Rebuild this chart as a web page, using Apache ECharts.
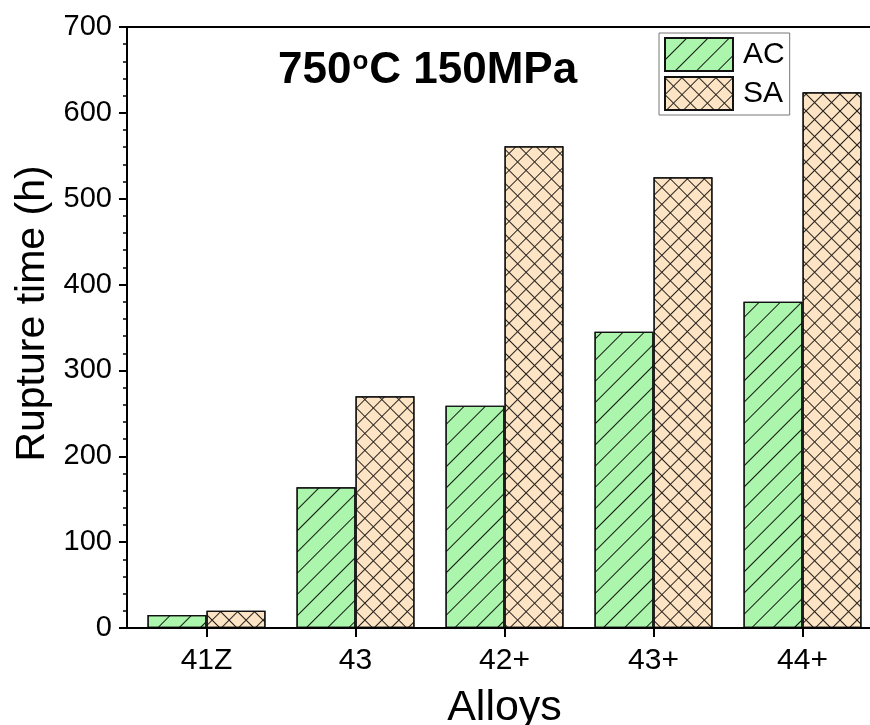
<!DOCTYPE html>
<html>
<head>
<meta charset="utf-8">
<script src="https://cdn.jsdelivr.net/npm/echarts@6/dist/echarts.min.js"></script>
<style>html,body{margin:0;padding:0;background:#fff}#c{width:870px;height:725px}</style>
</head>
<body>
<div id="c"></div>
<script>
var categories = ['41Z', '43', '42+', '43+', '44+'];
var acValues = [15, 164, 259, 345, 380];
var saValues = [20, 270, 561, 525, 624];
var yTicks = [0, 100, 200, 300, 400, 500, 600, 700];

var FONT = "'Liberation Sans', Arial, sans-serif";
var chart = echarts.init(document.getElementById('c'), null, {renderer: 'canvas'});

var acDecal = {
  symbol: 'rect', symbolSize: 1, color: 'rgba(0,0,0,0.9)',
  dashArrayX: [[1, 0]], dashArrayY: [1, 14], rotation: -Math.PI / 4
};
var saDecal = {
  symbol: 'rect', symbolSize: 1, color: 'rgba(0,0,0,0.85)',
  dashArrayX: [[12, 0], [1, 11]], dashArrayY: [1, 0, 11, 0], rotation: Math.PI / 4
};

var option = {
  animation: false,
  backgroundColor: '#fff',
  title: {
    left: 273, top: 44,
    text: '{a|750}{b|o}{a|C 150MPa}',
    textStyle: {
      rich: {
        a: {fontSize: 44, fontWeight: 'bold', fontFamily: FONT, color: '#000'},
        b: {fontSize: 26, lineHeight: 26, fontWeight: 'bold', fontFamily: FONT, color: '#000', verticalAlign: 'top', padding: [0, 1, 0, 1]}
      }
    }
  },
  legend: {
    left: 659, top: 33, orient: 'vertical',
    itemWidth: 68, itemHeight: 33, itemGap: 4,
    padding: [4, 5, 4, 5],
    borderColor: '#777', borderWidth: 1,
    icon: 'rect',
    textStyle: {fontSize: 30, fontFamily: FONT, color: '#000', padding: [0, 0, 0, 5]},
    data: ['AC', 'SA']
  },
  grid: [
    {left: 127, top: 27, right: -20, bottom: 97, outerBoundsMode: 'none', show: true, borderColor: '#000', borderWidth: 2, backgroundColor: 'transparent', z: 5},
    {left: 132, top: 27, width: 745, bottom: 97, outerBoundsMode: 'none'}
  ],
  xAxis: [
    {type: 'value', gridIndex: 0, show: false, min: 0, max: 1},
    {
      type: 'category', gridIndex: 1, data: categories,
      axisLine: {show: false},
      axisTick: {show: true, alignWithLabel: true, length: 9, lineStyle: {color: '#000', width: 2}},
      axisLabel: {fontSize: 30, fontFamily: FONT, color: '#000', margin: 18},
      name: 'Alloys', nameLocation: 'middle', nameGap: 59,
      nameTextStyle: {fontSize: 43, fontFamily: FONT, color: '#000'}
    }
  ],
  yAxis: [
    {
      type: 'value', gridIndex: 0, min: yTicks[0], max: yTicks[yTicks.length - 1], interval: 100,
      axisLine: {show: false},
      axisTick: {show: true, length: 8, lineStyle: {color: '#000', width: 2}},
      minorTick: {show: true, splitNumber: 5, length: 4, lineStyle: {color: '#000', width: 1.5}},
      splitLine: {show: false},
      axisLabel: {fontSize: 29, fontFamily: FONT, color: '#000', margin: 15},
      name: 'Rupture time (h)', nameLocation: 'middle', nameGap: 70,
      nameTextStyle: {fontSize: 41, fontFamily: FONT, color: '#000', padding: [0, 0, 0, 28]}
    },
    {type: 'value', gridIndex: 1, show: false, min: yTicks[0], max: yTicks[yTicks.length - 1]}
  ],
  series: [
    {
      name: 'AC', type: 'bar', xAxisIndex: 1, yAxisIndex: 1, data: acValues,
      barWidth: 59, barGap: '0%',
      itemStyle: {color: '#acf5ac', borderColor: '#111', borderWidth: 1.2, decal: acDecal}
    },
    {
      name: 'SA', type: 'bar', xAxisIndex: 1, yAxisIndex: 1, data: saValues,
      barWidth: 59, barGap: '0%',
      itemStyle: {color: '#fde4c4', borderColor: '#111', borderWidth: 1.2, decal: saDecal}
    }
  ]
};
chart.setOption(option);
</script>
</body>
</html>
